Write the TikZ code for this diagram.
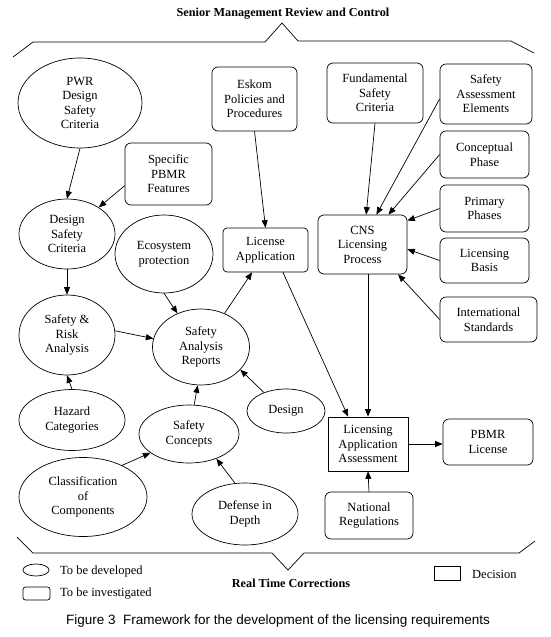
\documentclass[tikz,border=0pt]{standalone}
\usepackage{fontspec}
\setmainfont{Liberation Serif}
\newfontfamily\capfont{Liberation Sans}
\usetikzlibrary{shapes.geometric,arrows.meta}
\begin{document}
\begin{tikzpicture}[x=1pt,y=-1pt,
  every node/.style={font=\fontsize{12.5}{14.5}\selectfont, align=center, inner sep=0pt},
  ell/.style={draw, ellipse, line width=0.7pt},
  rbox/.style={draw, rectangle, rounded corners=6pt, line width=0.7pt},
  dbox/.style={draw, rectangle, line width=0.7pt},
  arr/.style={line width=0.7pt, -{Triangle[length=7.5pt,width=6pt]}},
  brk/.style={line width=0.7pt},
  lbl/.style={font=\fontsize{12.5}{14.5}\selectfont},
  ttl/.style={font=\bfseries\fontsize{12.2}{14}\selectfont}]
\useasboundingbox (0,0) rectangle (550,637);

% title and brackets
\node[ttl] (title) at (283,14) {Senior Management Review and Control};
\draw[brk] (13,57) -- (33,42) -- (265,42) -- (282,23) -- (298,41) -- (511,41) -- (534,53);
\draw[brk] (17,537) -- (33,553) -- (272,553) -- (288,570) -- (304,553) -- (519,553) -- (535,541);
\node[ttl] (rtc) at (291,583) {Real Time Corrections};

% ellipses
\node[ell, minimum width=124pt, minimum height=90pt] (pwr) at (80,103) {PWR\\Design\\Safety\\Criteria};
\node[ell, minimum width=96pt, minimum height=70pt] (dsc) at (67,234) {Design\\Safety\\Criteria};
\node[ell, minimum width=98pt, minimum height=78pt] (eco) at (164,254) {Ecosystem\\protection};
\node[ell, minimum width=96pt, minimum height=80pt] (sra) at (67,335) {Safety \&\\Risk\\Analysis};
\node[ell, minimum width=97pt, minimum height=76pt] (sar) at (201,347) {Safety\\Analysis\\Reports};
\node[ell, minimum width=106pt, minimum height=61pt] (haz) at (72,420) {Hazard\\Categories};
\node[ell, minimum width=100pt, minimum height=58pt] (sco) at (189,434) {Safety\\Concepts};
\node[ell, minimum width=78pt, minimum height=44pt] (des) at (286,411) {Design};
\node[ell, minimum width=128pt, minimum height=79pt] (cla) at (83,497) {Classification\\of\\Components};
\node[ell, minimum width=106pt, minimum height=62pt] (def) at (245,514) {Defense in\\Depth};

% rounded boxes
\node[rbox, minimum width=85pt, minimum height=64pt] (esk) at (254.5,99) {Eskom\\Policies and\\Procedures};
\node[rbox, minimum width=87pt, minimum height=62pt] (spe) at (168.5,174) {Specific\\PBMR\\Features};
\node[rbox, rounded corners=4pt, minimum width=85pt, minimum height=44pt] (lap) at (265.5,250) {License\\Application};
\node[rbox, minimum width=96pt, minimum height=60pt] (fun) at (375,93) {Fundamental\\Safety\\Criteria};
\node[rbox, minimum width=92pt, minimum height=60pt] (sae) at (486,94) {Safety\\Assessment\\Elements};
\node[rbox, minimum width=89pt, minimum height=47pt] (con) at (484.5,154.5) {Conceptual\\Phase};
\node[rbox, minimum width=89pt, minimum height=47pt] (pri) at (484.5,208.5) {Primary\\Phases};
\node[rbox, minimum width=89pt, minimum height=45pt] (bas) at (484.5,260.5) {Licensing\\Basis};
\node[rbox, minimum width=97pt, minimum height=45pt] (int) at (488.5,319.5) {International\\Standards};
\node[rbox, minimum width=89pt, minimum height=59pt] (cns) at (362.5,244.5) {CNS\\Licensing\\Process};
\node[dbox, minimum width=80pt, minimum height=54pt] (laa) at (368,444) {Licensing\\Application\\Assessment};
\node[rbox, minimum width=90pt, minimum height=46pt] (pbm) at (488,442) {PBMR\\License};
\node[rbox, minimum width=88pt, minimum height=47pt] (nat) at (369,515.5) {National\\Regulations};

% arrows
\draw[arr] (pwr.south) -- (dsc.north);
\draw[arr] (spe.195) -- (dsc.40);
\draw[arr] (esk.south) -- (lap.north);
\draw[arr] (dsc.south) -- (sra.north);
\draw[arr] (sra.5) -- (sar.170);
\draw[arr] (eco.south) -- (sar.125);
\draw[arr] (sar.55) -- (lap.239);
\draw[arr] (haz.north) -- (sra.south);
\draw[arr] (sco.80) -- (sar.265);
\draw[arr] (des.140) -- (sar.330);
\draw[arr] (cla.39) -- (sco.206);
\draw[arr] (def.108) -- (sco.318);
\draw[arr] (fun.south) -- (cns.83);
\draw[arr] (sae.186) -- (cns.65);
\draw[arr] (con.west) -- (cns.49);
\draw[arr] (pri.west) -- (cns.28);
\draw[arr] (bas.west) -- (cns.354);
\draw[arr] (int.west) -- (cns.320);
\draw[arr] (laa.north |- cns.south) -- (laa.north);
\draw[arr] (lap.308) -- (laa.126);
\draw[arr] (laa.east) -- (laa.east -| pbm.west);
\draw[arr] (nat.north) -- (laa.south);

% legend
\node[ell, minimum width=26pt, minimum height=12pt] (lg1) at (36,570) {};
\node[lbl, anchor=west] (lt1) at (60,571) {To be developed};
\node[rbox, rounded corners=2.5pt, minimum width=27pt, minimum height=13pt] (lg2) at (36.5,593.5) {};
\node[lbl, anchor=west] (lt2) at (60,594) {To be investigated};
\node[dbox, minimum width=26pt, minimum height=14pt] (lg3) at (447,573) {};
\node[lbl, anchor=west] (lt3) at (472,574) {Decision};

% caption
\node[font=\capfont\fontsize{13.5}{16}\selectfont] (cap) at (278,621) {Figure 3\ \ Framework for the development of the licensing requirements};
\end{tikzpicture}
\end{document}
